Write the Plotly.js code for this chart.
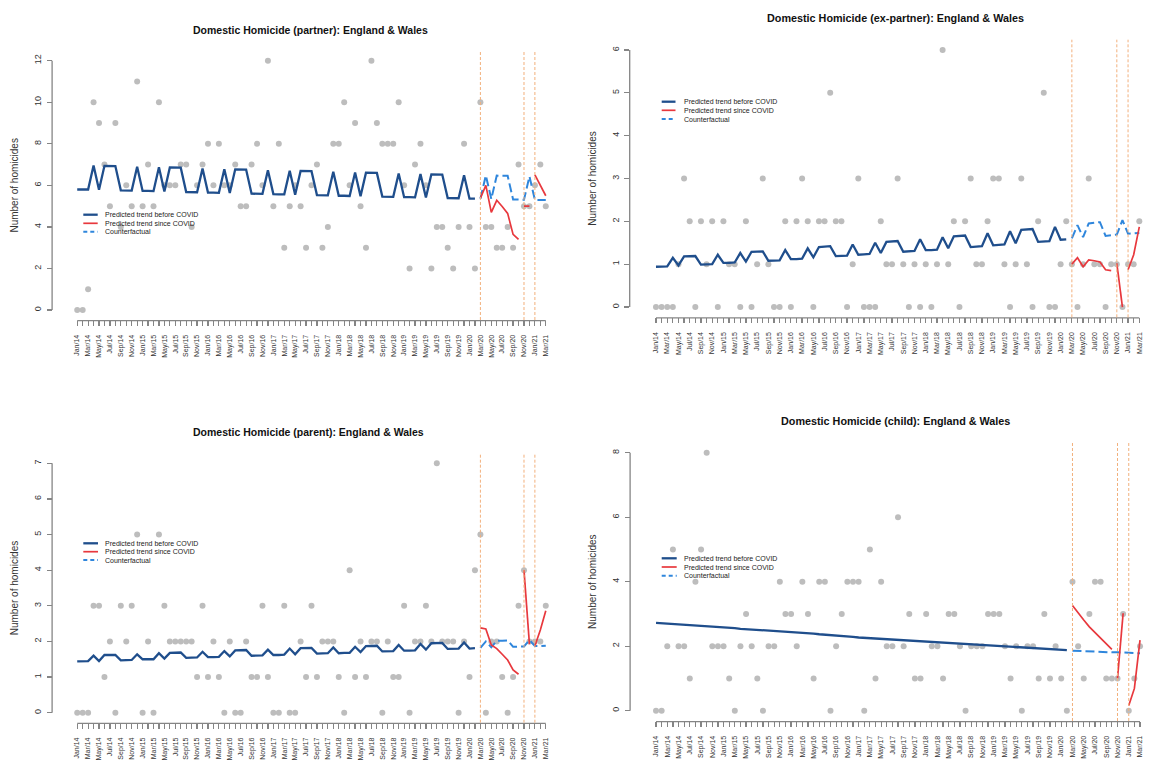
<!DOCTYPE html>
<html>
<head>
<meta charset="utf-8">
<script src="https://cdn.plot.ly/plotly-3.0.1.min.js"></script>
<style>
html,body{margin:0;padding:0;background:#fff;}
#chart{width:1152px;height:764px;}
</style>
</head>
<body>
<div id="chart"></div>
<script>
// ---------- DATA ----------
const months = [
 "Jan/14","Feb/14","Mar/14","Apr/14","May/14","Jun/14","Jul/14","Aug/14","Sep/14","Oct/14","Nov/14","Dec/14",
 "Jan/15","Feb/15","Mar/15","Apr/15","May/15","Jun/15","Jul/15","Aug/15","Sep/15","Oct/15","Nov/15","Dec/15",
 "Jan/16","Feb/16","Mar/16","Apr/16","May/16","Jun/16","Jul/16","Aug/16","Sep/16","Oct/16","Nov/16","Dec/16",
 "Jan/17","Feb/17","Mar/17","Apr/17","May/17","Jun/17","Jul/17","Aug/17","Sep/17","Oct/17","Nov/17","Dec/17",
 "Jan/18","Feb/18","Mar/18","Apr/18","May/18","Jun/18","Jul/18","Aug/18","Sep/18","Oct/18","Nov/18","Dec/18",
 "Jan/19","Feb/19","Mar/19","Apr/19","May/19","Jun/19","Jul/19","Aug/19","Sep/19","Oct/19","Nov/19","Dec/19",
 "Jan/20","Feb/20","Mar/20","Apr/20","May/20","Jun/20","Jul/20","Aug/20","Sep/20","Oct/20","Nov/20","Dec/20",
 "Jan/21","Feb/21","Mar/21"];
const lockdownMonths = ["Mar/20","Nov/20","Jan/21"];

const partnerObs = [0,0,1,10,9,7,5,9,4,6,5,11, 5,7,5,10,6,6,6,7,7,4,6,7, 8,6,8,6,6,7,5,5,7,8,6,12,
 5,8,3,5,6,5,3,6,7,3,4,8, 8,10,6,9,5,3,12,9,8,8,8,10, 6,2,7,8,6,2,4,4,3,2,4,8, 4,2,10,4,4,3,3,4,3,7,5,5, 6,7,5];
const partnerPre = [5.80,5.80,5.80,6.95,5.79,6.94,6.94,6.93,5.76,5.75,5.75,6.90, 5.73,5.73,5.72,6.87,5.70,6.86,6.85,6.85,5.68,5.68,5.67,6.81,
 5.65,5.65,5.64,6.78,5.63,6.77,6.76,6.76,5.60,5.60,5.59,6.73, 5.58,5.57,5.57,6.70,5.55,6.69,6.68,6.68,5.53,5.52,5.52,6.65,
 5.50,5.50,5.49,6.62,5.48,6.61,6.60,6.60,5.46,5.45,5.45,6.57, 5.43,5.43,5.42,6.54,5.41,6.53,6.52,6.52,5.39,5.38,5.38,6.49, 5.36,5.36];
const partnerCf = [5.36,6.48,5.34,6.47,6.46,6.46,5.32,5.31,5.31,6.43,5.30,5.29,5.29];
const partnerRed1 = [5.38,6.0,4.7,5.28,4.98,4.65,3.64,3.4];
const partnerRed2 = [5.0,5.0];
const partnerRed3 = [6.5,6.0,5.5];

const exObs = [0,0,0,0,1,3,2,0,2,1,2,0, 2,1,1,0,2,0,1,3,1,0,0,2, 0,2,3,2,0,2,2,5,2,2,0,1,
 3,0,0,0,2,1,1,3,1,0,1,0, 1,0,1,6,1,2,0,2,3,1,1,2, 3,3,1,0,1,3,1,0,2,5,0,0, 1,2,1,0,1,3,1,1,0,1,1,0, 1,1,2];
const exPre = [0.94,0.94,0.95,1.15,0.97,1.18,1.19,1.19,0.99,1.00,1.00,1.22, 1.03,1.03,1.04,1.26,1.06,1.29,1.30,1.30,1.08,1.09,1.09,1.33,
 1.12,1.12,1.13,1.37,1.16,1.40,1.41,1.42,1.19,1.20,1.20,1.46, 1.22,1.23,1.24,1.50,1.26,1.52,1.53,1.54,1.29,1.30,1.31,1.58,
 1.33,1.33,1.34,1.63,1.37,1.65,1.66,1.67,1.40,1.41,1.42,1.72, 1.44,1.45,1.46,1.77,1.49,1.80,1.81,1.82,1.52,1.53,1.54,1.87, 1.57,1.58];
const exCf = [1.60,1.91,1.63,1.95,1.97,1.98,1.66,1.67,1.69,2.03,1.71,1.72,1.73];
const exRed1 = [1.0,1.15,0.94,1.1,1.08,1.05,0.87,0.85];
const exRed2 = [1.02,0.0];
const exRed3 = [0.87,1.22,1.87];

const parentObs = [0,0,0,3,3,1,2,0,3,2,3,5, 0,2,0,5,3,2,2,2,2,2,1,3, 1,2,1,0,2,0,0,2,1,1,3,1,
 0,0,3,0,0,2,1,3,1,2,2,2, 1,0,4,1,2,1,2,2,0,2,1,1, 3,0,2,2,3,2,7,2,2,2,0,2, 1,4,5,0,2,2,1,0,1,3,4,2, 2,2,3];
const parentPre = [1.44,1.44,1.45,1.60,1.45,1.62,1.62,1.62,1.47,1.47,1.48,1.64, 1.50,1.50,1.50,1.67,1.52,1.68,1.68,1.69,1.54,1.54,1.55,1.71,
 1.56,1.56,1.57,1.73,1.58,1.75,1.75,1.76,1.60,1.60,1.61,1.77, 1.62,1.62,1.63,1.80,1.64,1.81,1.81,1.82,1.66,1.66,1.67,1.83,
 1.67,1.68,1.68,1.85,1.70,1.87,1.88,1.88,1.72,1.72,1.73,1.90, 1.74,1.74,1.75,1.93,1.77,1.95,1.95,1.96,1.79,1.79,1.80,1.97, 1.80,1.81];
const parentCf = [1.82,2.00,1.84,2.02,2.02,2.03,1.85,1.85,1.86,2.04,1.87,1.87,1.88];
const parentRed1 = [2.38,2.35,1.9,1.8,1.64,1.48,1.2,1.08];
const parentRed2 = [4.0,1.92];
const parentRed3 = [1.87,2.32,2.86];

const childObs = [0,0,2,5,2,2,1,4,5,8,2,2, 2,1,0,2,3,2,1,0,2,2,4,3, 3,2,4,3,1,4,4,0,2,3,4,4,
 4,0,5,1,4,2,2,6,2,3,1,1, 3,2,2,1,3,3,2,0,2,2,2,3, 3,3,2,1,2,0,2,2,1,3,1,2, 1,0,4,2,1,3,4,4,1,1,1,3, 0,1,2];
const childPre = [2.72,2.71,2.70,2.68,2.67,2.66,2.65,2.64,2.63,2.62,2.60,2.59, 2.58,2.57,2.56,2.54,2.53,2.52,2.51,2.50,2.49,2.47,2.46,2.45,
 2.44,2.43,2.41,2.40,2.39,2.37,2.36,2.34,2.33,2.32,2.30,2.29, 2.27,2.26,2.25,2.23,2.22,2.21,2.20,2.19,2.18,2.17,2.16,2.15,
 2.14,2.13,2.12,2.11,2.10,2.10,2.09,2.08,2.07,2.06,2.05,2.03, 2.02,2.01,2.00,1.99,1.98,1.97,1.96,1.95,1.94,1.93,1.91,1.90, 1.89,1.88];
const childCf = [1.86,1.85,1.85,1.84,1.83,1.83,1.82,1.81,1.81,1.80,1.79,1.79,1.78];
const childRed1 = [3.26,3.02,2.81,2.6,2.42,2.24,2.07,1.9];
const childRed2 = [1.0,3.02];
const childRed3 = [0.16,0.69,2.19];

const titles = ["Domestic Homicide (partner): England & Wales",
                "Domestic Homicide (ex-partner): England & Wales",
                "Domestic Homicide (parent): England & Wales",
                "Domestic Homicide (child): England & Wales"];
const legendLabels = ["Predicted trend before COVID","Predicted trend since COVID","Counterfactual"];
const yTitle = "Number of homicides";
const yTicks = [[0,2,4,6,8,10,12],[0,1,2,3,4,5,6],[0,1,2,3,4,5,6,7],[0,2,4,6,8]];

// ---------- STYLE / LAYOUT ----------
const W = 1152, H = 764;
const px = v => v / W;
const py = v => 1 - v / H;
const C_OBS = '#bdbdbd', C_PRE = '#1f4e8c', C_RED = '#e8383d', C_CF = '#2f86dc', C_LD = '#f2b07c';
const C_AX = '#858585';
const FONT = 'Liberation Sans, Arial, sans-serif';

const panels = [
  {obs: partnerObs, pre: partnerPre, cf: partnerCf, red: [partnerRed1, partnerRed2, partnerRed3],
   xd: [52.7, 570.3], yd: [320, 50.7], xr: [-4.5, 90.5], yr: [-0.48, 12.48],
   title: [310, 30], tsize: 10.5, leg: {x0: 83.3, x1: 97.7, tx: 103, rows: [214.7, 223.3, 231.7]}},
  {obs: exObs, pre: exPre, cf: exCf, red: [exRed1, exRed2, exRed3],
   xd: [630.3, 1152], yd: [317.3, 39.7], xr: [-4.57, 88.26], yr: [-0.24, 6.24],
   title: [895, 18], tsize: 10.8, leg: {x0: 661.7, x1: 675.5, tx: 681.7, rows: [101.7, 110.3, 119]}},
  {obs: parentObs, pre: parentPre, cf: parentCf, red: [parentRed1, parentRed2, parentRed3],
   xd: [52.7, 570.3], yd: [722.7, 453.3], xr: [-4.5, 90.5], yr: [-0.28, 7.28],
   title: [308, 432], tsize: 10.5, leg: {x0: 83.3, x1: 98, tx: 102.7, rows: [543.3, 551.7, 560]}},
  {obs: childObs, pre: childPre, cf: childCf, red: [childRed1, childRed2, childRed3],
   xd: [630.7, 1152], yd: [721, 442.4], xr: [-4.5, 88.13], yr: [-0.32, 8.32],
   title: [895, 421], tsize: 10.8, leg: {x0: 661.7, x1: 676.7, tx: 681.7, rows: [558.3, 567, 575.7]}}
];

const nPre = panels[0].pre.length;          // months before March 2020
const seg2Start = months.indexOf("Nov/20");
const seg3Start = months.indexOf("Jan/21");
const tickText = months.map((m, i) => (i % 2 === 0 ? m : ''));

const traces = [];
const layout = {
  width: W, height: H,
  margin: {l: 0, r: 0, t: 0, b: 0},
  paper_bgcolor: '#fff', plot_bgcolor: 'rgba(0,0,0,0)',
  showlegend: false,
  font: {family: FONT, color: '#222'},
  shapes: [], annotations: []
};

panels.forEach((p, k) => {
  const sfx = k === 0 ? '' : String(k + 1);
  const xa = 'x' + sfx, ya = 'y' + sfx;
  traces.push({type: 'scatter', mode: 'markers', x: months, y: p.obs, xaxis: xa, yaxis: ya,
    marker: {color: C_OBS, size: 6}, name: 'Observed', hoverinfo: 'x+y'});
  traces.push({type: 'scatter', mode: 'lines', x: months.slice(0, nPre), y: p.pre, xaxis: xa, yaxis: ya,
    line: {color: C_PRE, width: 2.3}, name: legendLabels[0]});
  traces.push({type: 'scatter', mode: 'lines', x: months.slice(nPre), y: p.cf, xaxis: xa, yaxis: ya,
    line: {color: C_CF, width: 2, dash: '9px,4px'}, name: legendLabels[2]});
  const starts = [nPre, seg2Start, seg3Start];
  p.red.forEach((seg, j) => {
    traces.push({type: 'scatter', mode: 'lines', x: months.slice(starts[j], starts[j] + seg.length), y: seg,
      xaxis: xa, yaxis: ya, line: {color: C_RED, width: 1.7}, name: legendLabels[1]});
  });

  layout['xaxis' + sfx] = {
    type: 'category', anchor: ya, domain: [px(p.xd[0]), px(p.xd[1])], range: p.xr,
    tickmode: 'array', tickvals: months, ticktext: tickText, tickangle: -90,
    tickfont: {size: 7, color: '#333', family: FONT}, ticks: 'outside', ticklen: 5, tickwidth: 1.2,
    tickcolor: C_AX, ticklabelstandoff: 6,
    showline: false, showgrid: false, zeroline: false, fixedrange: true
  };
  layout['yaxis' + sfx] = {
    anchor: xa, domain: [py(p.yd[0]), py(p.yd[1])], range: p.yr,
    tickmode: 'array', tickvals: yTicks[k], tickangle: -90,
    tickfont: {size: 9, color: '#333', family: FONT}, ticks: 'outside', ticklen: 5, tickwidth: 1.2,
    tickcolor: C_AX, ticklabelstandoff: 2,
    showline: false, showgrid: false, zeroline: false, fixedrange: true,
    title: {text: yTitle, font: {size: 10, color: '#333', family: FONT}, standoff: 12}
  };

  // R-style axis lines spanning first..last tick, placed in paper space
  const xPix = i => p.xd[0] + (i - p.xr[0]) / (p.xr[1] - p.xr[0]) * (p.xd[1] - p.xd[0]);
  const yPix = v => p.yd[0] - (v - p.yr[0]) / (p.yr[1] - p.yr[0]) * (p.yd[0] - p.yd[1]);
  const yt = yTicks[k];
  layout.shapes.push({type: 'line', xref: 'paper', yref: 'paper', layer: 'above',
    x0: px(xPix(0)), x1: px(xPix(months.length - 1)), y0: py(p.yd[0] + 0.6), y1: py(p.yd[0] + 0.6),
    line: {color: C_AX, width: 1.3}});
  layout.shapes.push({type: 'line', xref: 'paper', yref: 'paper', layer: 'above',
    x0: px(p.xd[0] - 0.6), x1: px(p.xd[0] - 0.6), y0: py(yPix(yt[0])), y1: py(yPix(yt[yt.length - 1])),
    line: {color: C_AX, width: 1.3}});
  lockdownMonths.forEach(m => {
    const xi = months.indexOf(m);
    layout.shapes.push({type: 'line', xref: xa, yref: ya + ' domain', x0: xi, x1: xi, y0: 0, y1: 1,
      line: {color: C_LD, width: 1, dash: '3px,2px'}});
  });

  layout.annotations.push({text: '<b>' + titles[k] + '</b>', xref: 'paper', yref: 'paper',
    x: px(p.title[0]), y: py(p.title[1]), xanchor: 'center', yanchor: 'middle', showarrow: false,
    font: {size: p.tsize, color: '#111', family: FONT}});

  const L = p.leg;
  const legStyles = [
    {color: C_PRE, width: 2.3, dash: 'solid'},
    {color: C_RED, width: 1.7, dash: 'solid'},
    {color: C_CF, width: 2, dash: '4px,3px'}
  ];
  legendLabels.forEach((lab, j) => {
    layout.shapes.push({type: 'line', xref: 'paper', yref: 'paper', x0: px(L.x0), x1: px(L.x1),
      y0: py(L.rows[j]), y1: py(L.rows[j]), line: legStyles[j]});
    layout.annotations.push({text: lab, xref: 'paper', yref: 'paper', x: px(L.tx), y: py(L.rows[j]),
      xanchor: 'left', yanchor: 'middle', showarrow: false, font: {size: 7, color: '#222', family: FONT}});
  });
});

Plotly.newPlot('chart', traces, layout, {displayModeBar: false, staticPlot: true});
</script>
</body>
</html>
